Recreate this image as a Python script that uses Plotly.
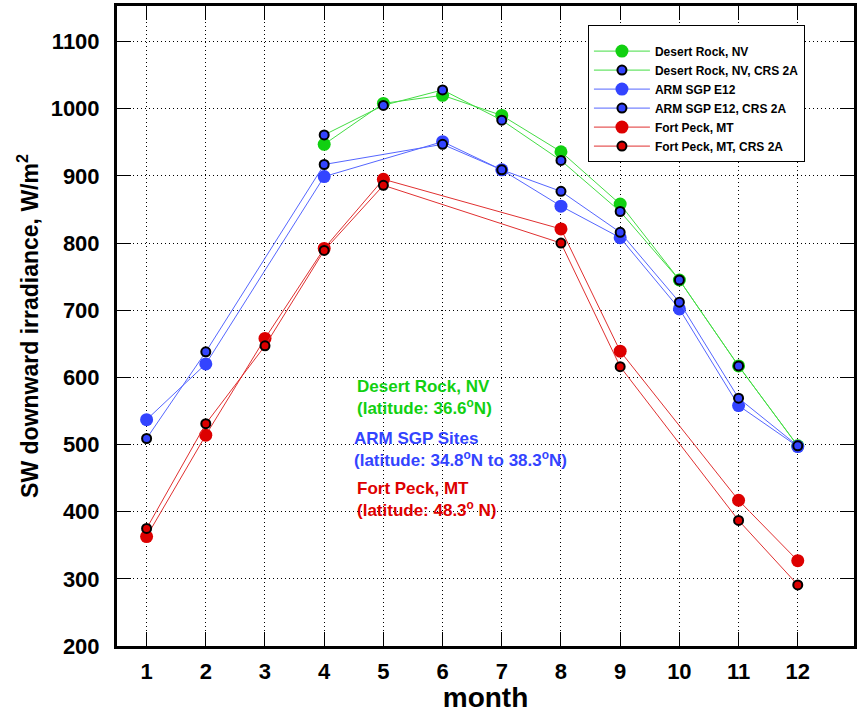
import plotly.graph_objects as go

# ---- data ----
dr_months = [4, 5, 6, 7, 8, 9, 10, 11, 12]
dr_obs = [947, 1008, 1020, 990, 936, 858, 745, 617, 498]
dr_crs = [961, 1005, 1028, 983, 923, 847, 745, 617, 498]

arm_months = [1, 2, 4, 6, 7, 8, 9, 10, 11, 12]
arm_obs = [537, 620, 899, 951, 909, 855, 808, 702, 558, 497]
arm_crs = [509, 638, 917, 947, 909, 877, 816, 712, 569, 498]

fp_months = [1, 2, 3, 4, 5, 8, 9, 11, 12]
fp_obs = [363, 514, 658, 792, 895, 821, 639, 417, 327]
fp_crs = [375, 531, 647, 789, 886, 800, 616, 387, 291]

series_names = [
    "Desert Rock, NV", "Desert Rock, NV, CRS 2A",
    "ARM SGP E12", "ARM SGP E12, CRS 2A",
    "Fort Peck, MT", "Fort Peck, MT, CRS 2A",
]
x_ticks = list(range(1, 13))
y_ticks = list(range(200, 1101, 100))

FONT = "Arial, Liberation Sans, sans-serif"
GREEN = "#11d011"
GREEN_L = "#44dd44"
BLUE = "#3344ff"
BLUE_L = "#5566ff"
RED = "#dd0000"
RED_L = "#e03030"

fig = go.Figure()

def big(x, y, name, lc, mc):
    fig.add_trace(go.Scatter(x=x, y=y, name=name, mode="lines+markers",
                             line=dict(color=lc, width=1),
                             marker=dict(color=mc, size=13, line=dict(width=0))))

def small(x, y, name, lc, mc):
    fig.add_trace(go.Scatter(x=x, y=y, name=name, mode="lines+markers",
                             line=dict(color=lc, width=1),
                             marker=dict(color=mc, size=9, line=dict(color="black", width=2))))

big(dr_months, dr_obs, series_names[0], GREEN_L, GREEN)
small(dr_months, dr_crs, series_names[1], GREEN_L, BLUE)
big(arm_months, arm_obs, series_names[2], BLUE_L, BLUE)
small(arm_months, arm_crs, series_names[3], BLUE_L, BLUE)
big(fp_months, fp_obs, series_names[4], RED_L, RED)
small(fp_months, fp_crs, series_names[5], RED_L, RED)

ann_font = dict(family=FONT, size=17)
annotations = [
    dict(text="<b>Desert Rock, NV<br>(latitude: 36.6<sup>o</sup>N)</b>", x=0.323, y=0.388,
         font=dict(ann_font, color=GREEN)),
    dict(text="<b>ARM SGP Sites<br>(latitude: 34.8<sup>o</sup>N to 38.3<sup>o</sup>N)</b>", x=0.319, y=0.307,
         font=dict(ann_font, color=BLUE)),
    dict(text="<b>Fort Peck, MT<br>(latitude: 48.3<sup>o</sup> N)</b>", x=0.323, y=0.229,
         font=dict(ann_font, color=RED)),
]
for a in annotations:
    a.update(xref="paper", yref="paper", xanchor="left", yanchor="middle",
             align="left", showarrow=False)

axis_common = dict(
    showline=True, linecolor="black", linewidth=3, mirror="ticks",
    ticks="inside", ticklen=14, tickwidth=1, tickcolor="black",
    showgrid=True, gridcolor="black", gridwidth=1, griddash="1px,3px",
    zeroline=False,
    tickfont=dict(family=FONT, size=22, color="black", weight="bold"),
)

fig.update_layout(
    width=857, height=713,
    margin=dict(l=117, r=0, t=6, b=67),
    paper_bgcolor="white", plot_bgcolor="white",
    font=dict(family=FONT, color="black"),
    xaxis=dict(axis_common, range=[0.5, 12.95], tickvals=x_ticks, ticklabelstandoff=4,
               title=dict(text="<b>month</b>", font=dict(family=FONT, size=28), standoff=6)),
    yaxis=dict(axis_common, range=[200, 1153], tickvals=y_ticks, ticklabelstandoff=10,
               title=dict(text="<b>SW downward irradiance, W/m<sup>2</sup></b>",
                          font=dict(family=FONT, size=23), standoff=6)),
    legend=dict(x=0.639, y=0.970, xanchor="left", yanchor="top",
                bgcolor="white", bordercolor="black", borderwidth=1,
                font=dict(family=FONT, size=12, color="black", weight="bold"),
                itemwidth=56, tracegroupgap=0,
                title=dict(text=" ", font=dict(size=8))),
    annotations=annotations,
)

fig.write_html("out.html")
